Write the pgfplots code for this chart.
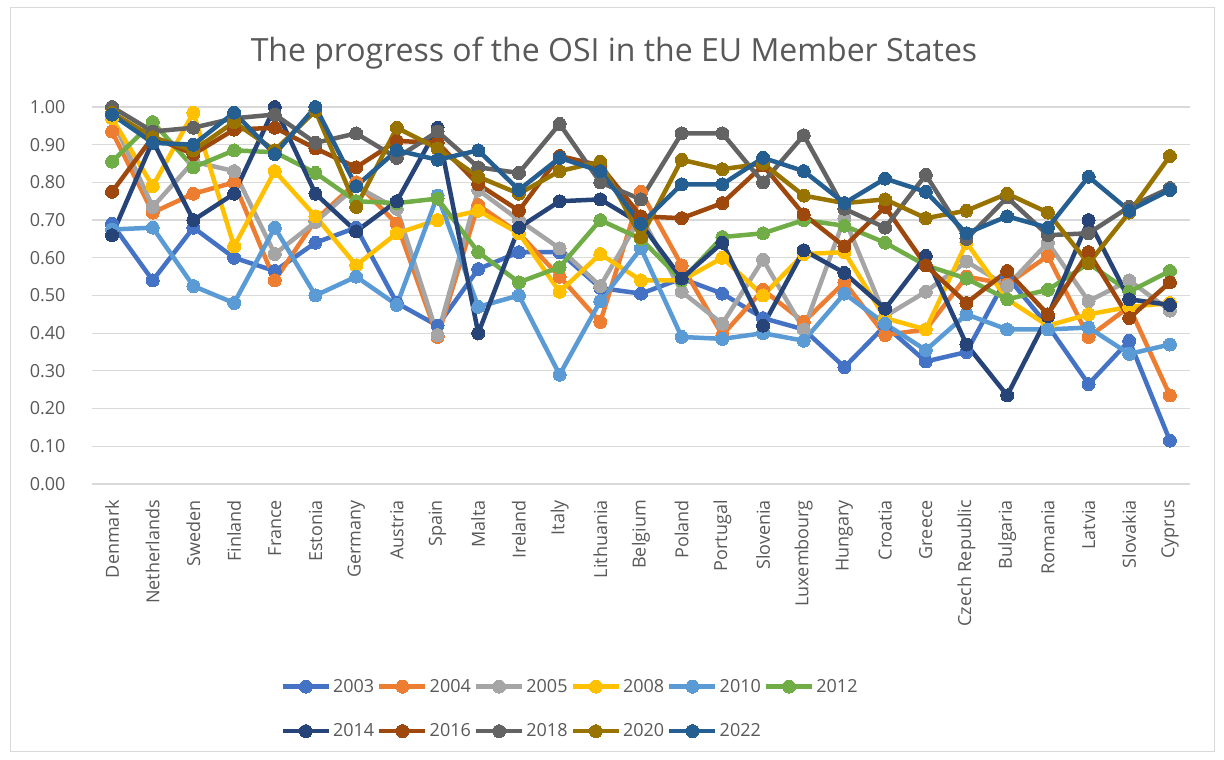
\documentclass[border=0pt]{standalone}
\usepackage{fontspec}
\setmainfont{Open Sans}
\usepackage{pgfplots}
\usepackage{pgfplotstable}
\pgfplotsset{compat=1.18}

\definecolor{c2003}{HTML}{4472C4}
\definecolor{c2004}{HTML}{ED7D31}
\definecolor{c2005}{HTML}{A5A5A5}
\definecolor{c2008}{HTML}{FFC000}
\definecolor{c2010}{HTML}{5B9BD5}
\definecolor{c2012}{HTML}{70AD47}
\definecolor{c2014}{HTML}{264478}
\definecolor{c2016}{HTML}{9E480E}
\definecolor{c2018}{HTML}{636363}
\definecolor{c2020}{HTML}{997300}
\definecolor{c2022}{HTML}{255E91}
\definecolor{txt}{HTML}{595959}
\definecolor{grid}{HTML}{D9D9D9}

\pgfplotstableread{
idx a2003 a2004 a2005 a2008 a2010 a2012 a2014 a2016 a2018 a2020 a2022
0  0.69  0.935 0.97  0.97  0.675 0.855 0.66  0.775 1.00  0.985 0.98
1  0.54  0.72  0.735 0.79  0.68  0.96  0.91  0.92  0.935 0.92  0.905
2  0.68  0.77  0.855 0.985 0.525 0.84  0.70  0.875 0.945 0.885 0.90
3  0.60  0.80  0.83  0.63  0.48  0.885 0.77  0.94  0.97  0.96  0.985
4  0.565 0.54  0.61  0.83  0.68  0.88  1.00  0.945 0.98  0.885 0.875
5  0.64  0.70  0.695 0.71  0.50  0.825 0.77  0.89  0.905 0.99  1.00
6  0.68  0.80  0.79  0.58  0.55  0.75  0.67  0.84  0.93  0.735 0.79
7  0.48  0.69  0.73  0.665 0.475 0.745 0.75  0.91  0.865 0.945 0.885
8  0.42  0.39  0.395 0.70  0.765 0.757 0.945 0.905 0.935 0.89  0.86
9  0.57  0.74  0.78  0.725 0.47  0.615 0.40  0.795 0.84  0.815 0.885
10 0.615 0.665 0.70  0.665 0.50  0.535 0.68  0.725 0.825 0.77  0.78
11 0.615 0.55  0.625 0.51  0.29  0.575 0.75  0.87  0.955 0.83  0.865
12 0.52  0.43  0.525 0.61  0.485 0.70  0.755 0.845 0.80  0.855 0.83
13 0.505 0.775 0.71  0.54  0.625 0.65  0.69  0.71  0.755 0.655 0.69
14 0.545 0.58  0.51  0.54  0.39  0.54  0.545 0.705 0.93  0.86  0.795
15 0.505 0.395 0.425 0.60  0.385 0.655 0.64  0.745 0.93  0.835 0.795
16 0.44  0.515 0.595 0.50  0.40  0.665 0.42  0.845 0.80  0.85  0.865
17 0.41  0.43  0.41  0.61  0.38  0.70  0.62  0.715 0.925 0.765 0.83
18 0.31  0.535 0.705 0.615 0.505 0.685 0.56  0.63  0.73  0.745 0.745
19 0.42  0.395 0.445 0.44  0.425 0.64  0.465 0.735 0.68  0.755 0.81
20 0.325 0.41  0.51  0.41  0.355 0.58  0.605 0.58  0.82  0.705 0.775
21 0.35  0.55  0.59  0.64  0.45  0.545 0.37  0.48  0.65  0.725 0.665
22 0.55  0.53  0.525 0.49  0.41  0.49  0.235 0.565 0.76  0.77  0.71
23 0.42  0.605 0.64  0.42  0.41  0.515 0.445 0.45  0.66  0.72  0.68
24 0.265 0.39  0.485 0.45  0.415 0.585 0.70  0.615 0.665 0.585 0.815
25 0.38  0.47  0.54  0.47  0.345 0.51  0.49  0.44  0.735 0.72  0.725
26 0.115 0.235 0.46  0.48  0.37  0.565 0.475 0.535 0.785 0.87  0.78
}\datatable

\pgfplotsset{
  ser/.style={color=#1, line width=4.5pt, mark=*, mark size=6.5pt,
    mark options={solid, fill=#1, draw=#1, line width=0pt}},
}

\begin{document}
\begin{tikzpicture}[x=1pt,y=1pt]
\path[use as bounding box, fill=white] (0,0) rectangle (1224,760);
\draw[grid, line width=1pt] (10,8) rectangle (1214,752);
\node[text=txt, font=\fontsize{32}{38}\selectfont] at (614,707) {The progress of the OSI in the EU Member States};
\begin{axis}[
  at={(91.7pt,276pt)}, anchor=south west,
  scale only axis, width=1098.6pt, height=377pt,
  xmin=-0.5, xmax=26.5, ymin=0, ymax=1,
  axis line style={draw=none},
  axis x line*=bottom,
  x axis line style={draw=grid, line width=1pt},
  ytick={0,0.1,0.2,0.3,0.4,0.5,0.6,0.7,0.8,0.9,1.0},
  xtick={0,...,26},
  xticklabels={Denmark,Netherlands,Sweden,Finland,France,Estonia,Germany,Austria,Spain,Malta,Ireland,Italy,Lithuania,Belgium,Poland,Portugal,Slovenia,Luxembourg,Hungary,Croatia,Greece,Czech Republic,Bulgaria,Romania,Latvia,Slovakia,Cyprus},
  major tick length=0pt,
  ymajorgrids, grid style={draw=grid, line width=1.2pt},
  /pgf/number format/fixed,
  /pgf/number format/fixed zerofill,
  /pgf/number format/precision=2,
  /pgf/number format/assume math mode=true,
  yticklabel style={anchor=east, inner sep=0pt, xshift=-26pt, text=txt, font=\fontsize{18}{22}\selectfont},
  xticklabel style={yshift=-16pt, rotate=90, anchor=east, inner sep=0pt, text=txt, font=\fontsize{18}{22}\selectfont},
  legend columns=6,
  legend cell align=left,
  legend style={draw=none, fill=none, at={(axis description cs:0.169,-0.507)}, anchor=north west,
    font=\fontsize{18}{22}\selectfont, text=txt, row sep=26pt,
    nodes={inner sep=2pt},
    /tikz/every even column/.append style={column sep=1pt}},
  legend image code/.code={\draw[mark repeat=2, mark phase=2] plot coordinates {(0pt,0pt) (23pt,0pt) (46pt,0pt)};},
  clip=false,
]
\addplot[ser=c2003] table[x=idx, y=a2003] {\datatable};
\addplot[ser=c2004] table[x=idx, y=a2004] {\datatable};
\addplot[ser=c2005] table[x=idx, y=a2005] {\datatable};
\addplot[ser=c2008] table[x=idx, y=a2008] {\datatable};
\addplot[ser=c2010] table[x=idx, y=a2010] {\datatable};
\addplot[ser=c2012] table[x=idx, y=a2012] {\datatable};
\addplot[ser=c2014] table[x=idx, y=a2014] {\datatable};
\addplot[ser=c2016] table[x=idx, y=a2016] {\datatable};
\addplot[ser=c2018] table[x=idx, y=a2018] {\datatable};
\addplot[ser=c2020] table[x=idx, y=a2020] {\datatable};
\addplot[ser=c2022] table[x=idx, y=a2022] {\datatable};
\legend{2003,2004,2005,2008,2010,2012,2014,2016,2018,2020,2022}
\end{axis}
\end{tikzpicture}
\end{document}
